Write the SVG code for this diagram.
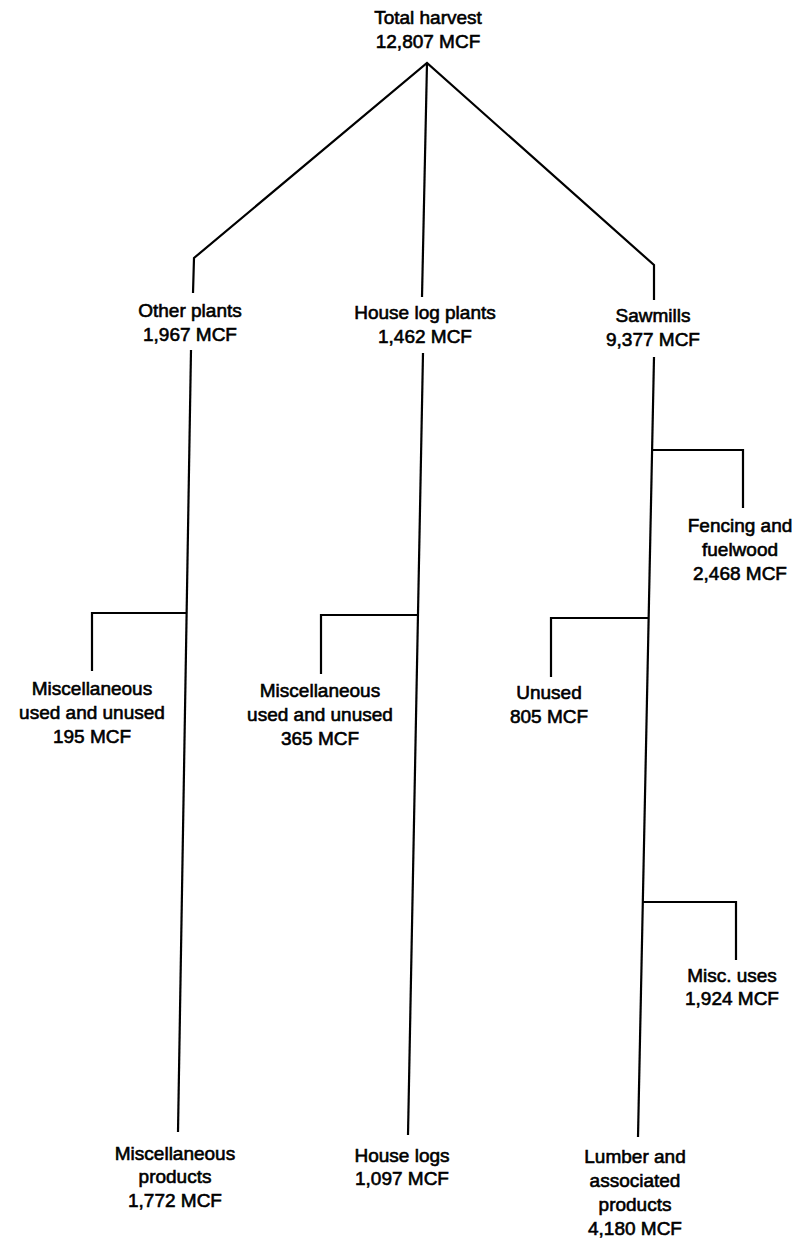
<svg xmlns="http://www.w3.org/2000/svg" width="798" height="1240" viewBox="0 0 798 1240">
<style>
.t{font-family:"Liberation Sans",Arial,sans-serif;font-size:19px;fill:#000;stroke:#000;stroke-width:0.6;text-anchor:middle}
.c{fill:none;stroke:#000;stroke-width:2.2;stroke-linejoin:miter}
</style>
<rect width="798" height="1240" fill="#fff"/>
<g id="connectors">
<polyline class="c" points="193,293 194,258 427,63 654,265 654,300"/>
<line class="c" x1="427" y1="63" x2="422" y2="297"/>
<line class="c" x1="191" y1="350" x2="178" y2="1132"/>
<polyline class="c" points="92,671 92,613 187,613"/>
<line class="c" x1="423" y1="353" x2="408" y2="1135"/>
<polyline class="c" points="321,674 321,615 418,615"/>
<line class="c" x1="654" y1="357" x2="638" y2="1137"/>
<polyline class="c" points="652,450 743,450 743,508"/>
<polyline class="c" points="551,677 551,618 649,618"/>
<polyline class="c" points="643,902 736,902 736,960"/>
</g>
<g id="total"><text class="t" x="428" y="24">Total harvest</text><text class="t" x="428" y="48">12,807 MCF</text></g>
<g id="other"><text class="t" x="190" y="317">Other plants</text><text class="t" x="190" y="341">1,967 MCF</text></g>
<g id="houselogplants"><text class="t" x="425" y="319">House log plants</text><text class="t" x="425" y="343">1,462 MCF</text></g>
<g id="sawmills"><text class="t" x="653" y="322">Sawmills</text><text class="t" x="653" y="346">9,377 MCF</text></g>
<g id="fencing"><text class="t" x="740" y="532">Fencing and</text><text class="t" x="740" y="556">fuelwood</text><text class="t" x="740" y="580">2,468 MCF</text></g>
<g id="misc1"><text class="t" x="92" y="695">Miscellaneous</text><text class="t" x="92" y="719">used and unused</text><text class="t" x="92" y="743">195 MCF</text></g>
<g id="misc2"><text class="t" x="320" y="697">Miscellaneous</text><text class="t" x="320" y="721">used and unused</text><text class="t" x="320" y="745">365 MCF</text></g>
<g id="unused"><text class="t" x="549" y="699">Unused</text><text class="t" x="549" y="723">805 MCF</text></g>
<g id="miscuses"><text class="t" x="732" y="982">Misc. uses</text><text class="t" x="732" y="1005">1,924 MCF</text></g>
<g id="miscproducts"><text class="t" x="175" y="1160">Miscellaneous</text><text class="t" x="175" y="1183">products</text><text class="t" x="175" y="1207">1,772 MCF</text></g>
<g id="houselogs"><text class="t" x="402" y="1162">House logs</text><text class="t" x="402" y="1185">1,097 MCF</text></g>
<g id="lumber"><text class="t" x="635" y="1163">Lumber and</text><text class="t" x="635" y="1187">associated</text><text class="t" x="635" y="1211">products</text><text class="t" x="635" y="1235">4,180 MCF</text></g>
</svg>
